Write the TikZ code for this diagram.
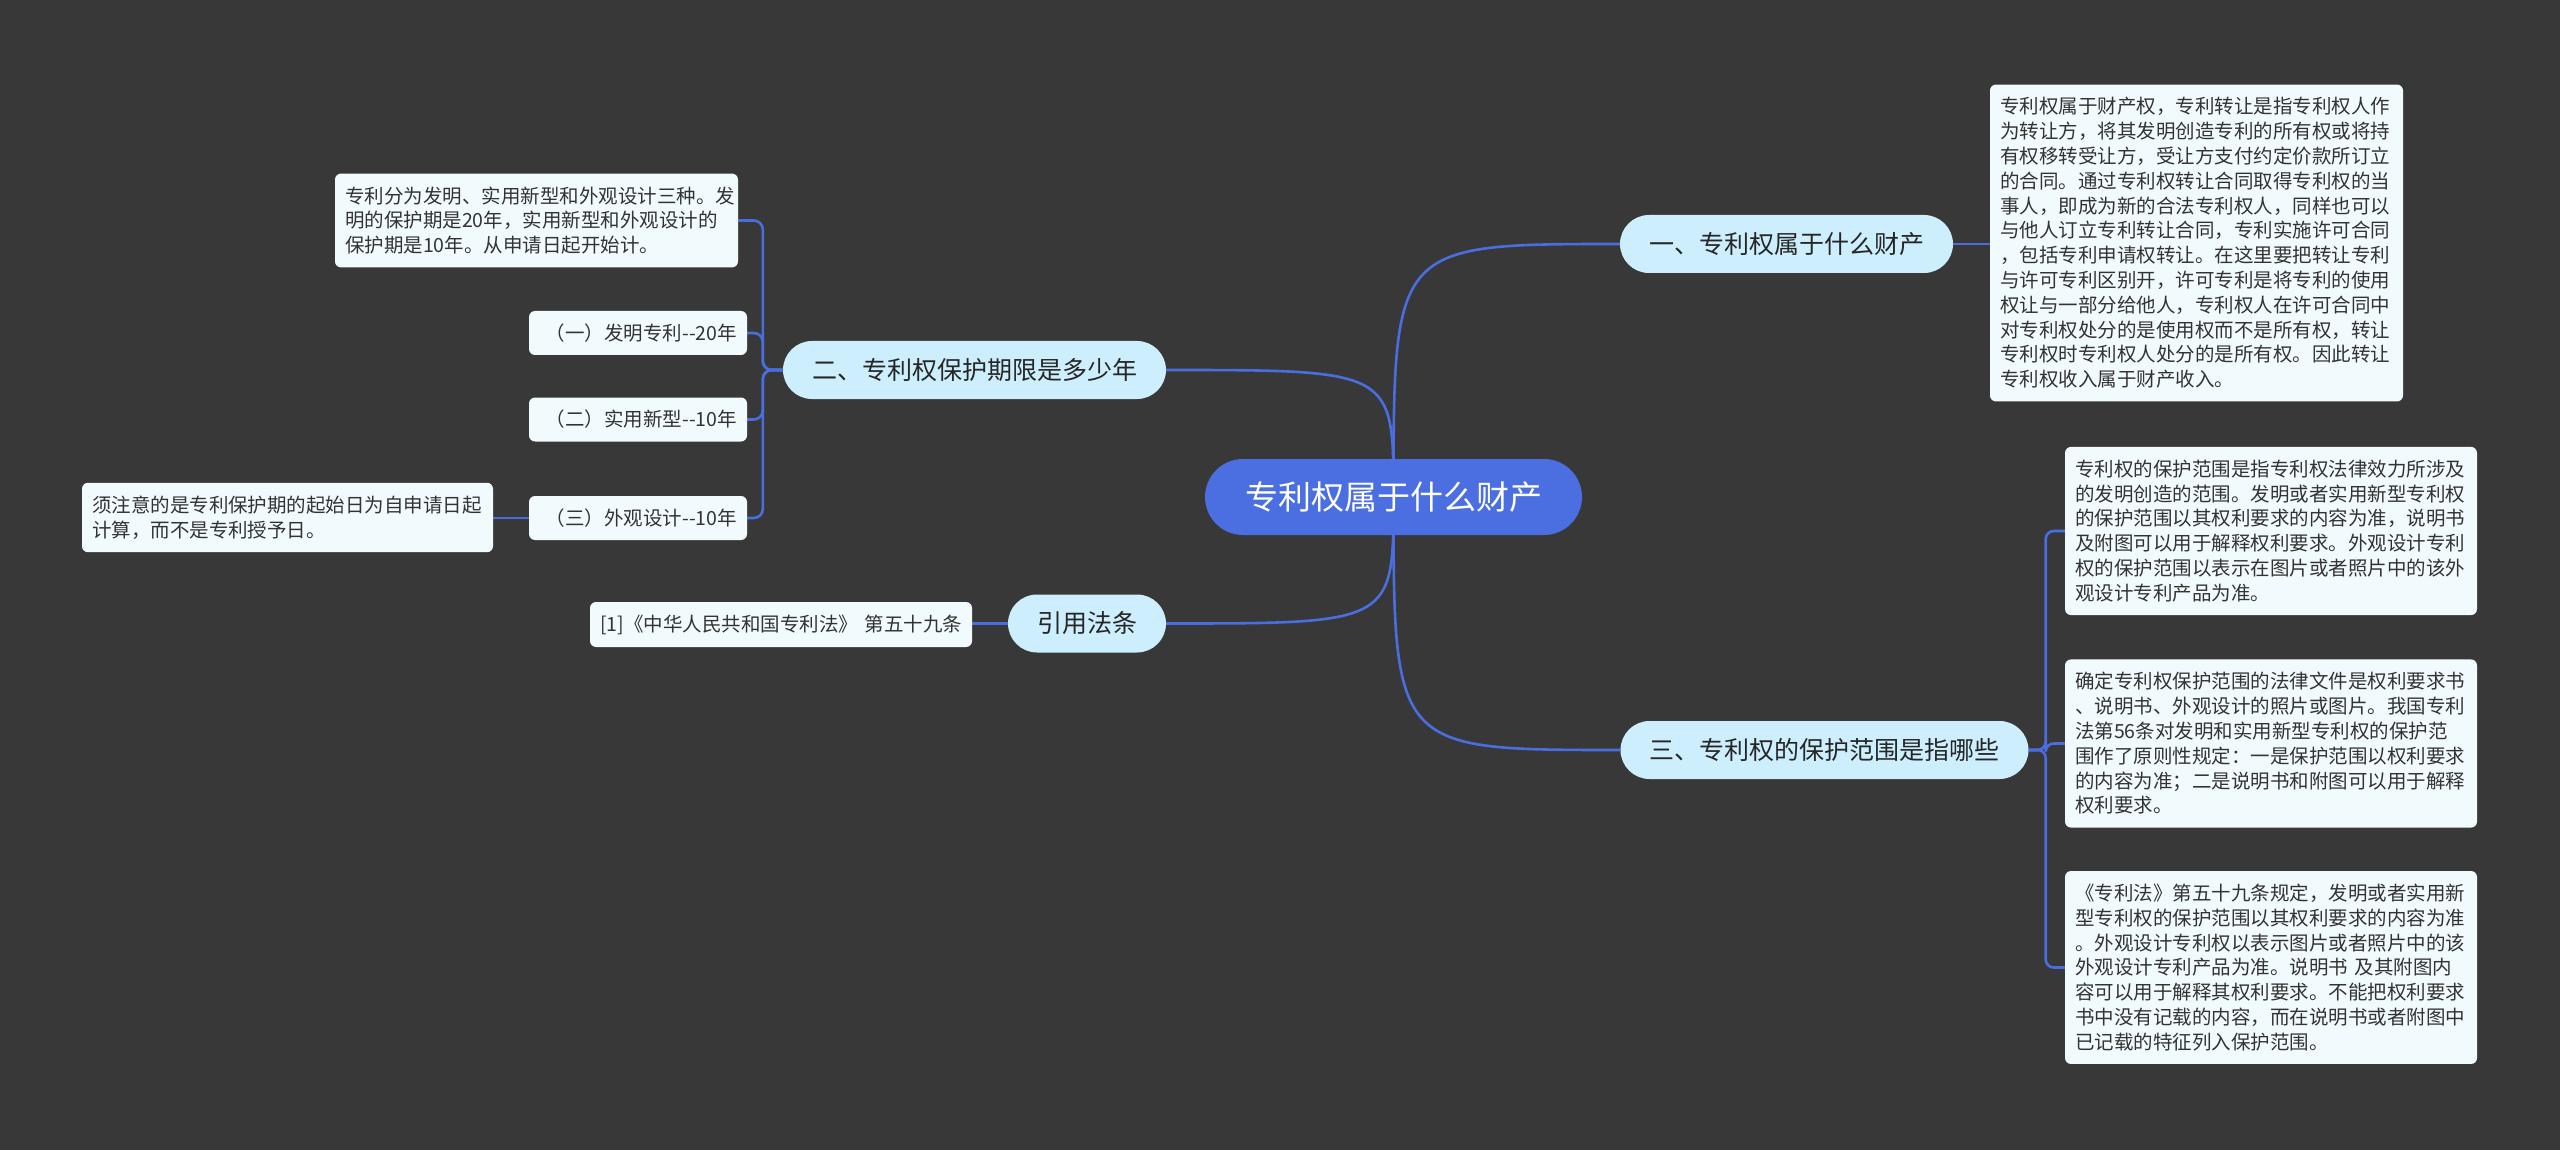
\documentclass[tikz,border=0pt]{standalone}
\usepackage{fontspec}
\newfontfamily\cjk{Noto Sans CJK SC}
\usetikzlibrary{backgrounds}
\definecolor{bgdark}{HTML}{383838}
\definecolor{rootblue}{HTML}{4B6EE0}
\definecolor{topicfill}{HTML}{CDEFFD}
\definecolor{leaffill}{HTML}{F1FAFD}
\definecolor{leaftext}{HTML}{333333}
\definecolor{linkblue}{HTML}{4A6EDF}

\begin{document}
\begin{tikzpicture}[x=1pt,y=-1pt,
    every node/.style={font=\cjk},
    rootnode/.style={fill=rootblue,text=white,rounded corners=38pt,inner xsep=40pt,inner ysep=0pt,
      minimum height=76pt,font=\cjk\fontsize{33}{38}\selectfont},
    topic/.style={fill=topicfill,text=black!85,rounded corners=29pt,inner xsep=29pt,inner ysep=0pt,
      minimum height=58pt,font=\cjk\fontsize{25}{30}\selectfont},
    leaf/.style={fill=leaffill,text=leaftext,rounded corners=6pt,inner xsep=10pt,inner ysep=13pt,
      text width=#1,align=left,font=\cjk\fontsize{19.5}{24.8}\selectfont},
    period/.style={leaf=198pt,align=right,inner ysep=8pt,minimum height=44pt},
    link/.style={draw=linkblue,line width=2.6pt},
  ]
  \node[rootnode] (root) at (1393.5,497) {专利权属于什么财产};
  \node[topic] (b1) at (1786.5,244) {一、专利权属于什么财产};
  \node[topic] (b2) at (974.5,370) {二、专利权保护期限是多少年};
  \node[topic] (b3) at (1824.5,750) {三、专利权的保护范围是指哪些};
  \node[topic] (b4) at (1087,623.5) {引用法条};

  \node[leaf=393pt] (l1) at (2196.5,243) {专利权属于财产权，专利转让是指专利权人作\\为转让方，将其发明创造专利的所有权或将持\\有权移转受让方，受让方支付约定价款所订立\\的合同。通过专利权转让合同取得专利权的当\\事人，即成为新的合法专利权人，同样也可以\\与他人订立专利转让合同，专利实施许可合同\\，包括专利申请权转让。在这里要把转让专利\\与许可专利区别开，许可专利是将专利的使用\\权让与一部分给他人，专利权人在许可合同中\\对专利权处分的是使用权而不是所有权，转让\\专利权时专利权人处分的是所有权。因此转让\\专利权收入属于财产收入。};

  \node[leaf=383pt] (p0) at (536.5,220.5) {专利分为发明、实用新型和外观设计三种。发\\明的保护期是20年，实用新型和外观设计的\\保护期是10年。从申请日起开始计。};
  \foreach \n/\y/\t in {pa/333/（一）发明专利-\kern0pt-20年,pb/419.5/（二）实用新型-\kern0pt-10年,pc/518/（三）外观设计-\kern0pt-10年} {
    \node[period] (\n) at (638,\y) {\t};
  }
  \node[leaf=391pt] (n2) at (287.5,517.5) {须注意的是专利保护期的起始日为自申请日起\\计算，而不是专利授予日。};
  \node[leaf=362pt,inner ysep=8pt,minimum height=45pt] (l4) at (781,624.5) {\mbox{[1]《中华人民共和国专利法》 第五十九条}};

  \node[leaf=392pt] (l3a) at (2271,531) {专利权的保护范围是指专利权法律效力所涉及\\的发明创造的范围。发明或者实用新型专利权\\的保护范围以其权利要求的内容为准，说明书\\及附图可以用于解释权利要求。外观设计专利\\权的保护范围以表示在图片或者照片中的该外\\观设计专利产品为准。};
  \node[leaf=392pt] (l3b) at (2271,743.5) {确定专利权保护范围的法律文件是权利要求书\\、说明书、外观设计的照片或图片。我国专利\\法第56条对发明和实用新型专利权的保护范\\围作了原则性规定：一是保护范围以权利要求\\的内容为准；二是说明书和附图可以用于解释\\权利要求。};
  \node[leaf=392pt] (l3c) at (2271,967.5) {《专利法》第五十九条规定，发明或者实用新\\型专利权的保护范围以其权利要求的内容为准\\。外观设计专利权以表示图片或者照片中的该\\外观设计专利产品为准。说明书 及其附图内\\容可以用于解释其权利要求。不能把权利要求\\书中没有记载的内容，而在说明书或者附图中\\已记载的特征列入保护范围。};

  \begin{scope}[on background layer]
    \fill[bgdark] (0,0) rectangle (2560,1150);
    \foreach \b in {b1,b3} \draw[link] (root.center) .. controls (root.center |- \b.west) .. (\b.west);
    \foreach \b in {b2,b4} \draw[link] (root.center) .. controls (root.center |- \b.east) .. (\b.east);
    \coordinate (j2) at ([xshift=-20pt]b2.west);
    \foreach \c in {p0,pa,pb,pc} \draw[link,rounded corners=9pt] (b2.west) -- (j2) |- (\c.east);
    \coordinate (j3) at ([xshift=17pt]b3.east);
    \foreach \c in {l3a,l3b,l3c} \draw[link,rounded corners=8pt] (b3.east) -- (j3) |- (\c.west);
    \draw[link] (b1.east) -- (b1.east -| l1.west);
    \draw[link] (b4.west) -- (b4.west -| l4.east);
    \draw[link] (pc.west) -- (pc.west -| n2.east);
  \end{scope}
\end{tikzpicture}
\end{document}
